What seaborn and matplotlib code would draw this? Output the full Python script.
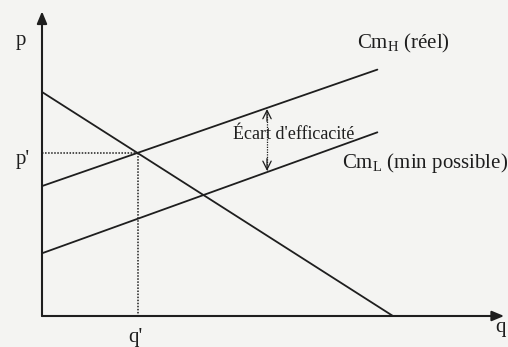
import matplotlib
matplotlib.use("Agg")
import matplotlib.pyplot as plt
import seaborn as sns
import pandas as pd

# Curve endpoints (quantity q, price p)
demand_q = [0.0, 9.0]
demand_p = [10.0, 0.0]
cmh_q = [0.0, 8.6]
cmh_p = [5.8, 11.0]
cml_q = [0.0, 8.6]
cml_p = [2.8, 8.2]

# Equilibrium with the real marginal cost
q_eq = 2.45
p_eq = 7.27

# Efficiency gap marker position
gap_q = 5.77
gap_top = 9.29
gap_bottom = 6.43

sns.set_theme(style="white")
plt.rcParams["font.family"] = ["Liberation Serif", "DejaVu Serif"]
plt.rcParams["mathtext.fontset"] = "custom"
plt.rcParams["mathtext.rm"] = "Liberation Serif"
plt.rcParams["mathtext.it"] = "Liberation Serif:italic"

bg = "#f4f4f2"
ink = "#1e1e1e"

fig = plt.figure(figsize=(5.08, 3.47), dpi=100, facecolor=bg)
ax = fig.add_axes([0, 0, 1, 1])
ax.set_facecolor(bg)
ax.set_xlim(-1.077, 11.95)
ax.set_ylim(-1.384, 14.107)
ax.axis("off")

lines = pd.concat([
    pd.DataFrame({"q": demand_q, "p": demand_p, "courbe": "D"}),
    pd.DataFrame({"q": cmh_q, "p": cmh_p, "courbe": "CmH"}),
    pd.DataFrame({"q": cml_q, "p": cml_p, "courbe": "CmL"}),
])
sns.lineplot(data=lines, x="q", y="p", units="courbe", estimator=None,
             color=ink, lw=1.3, ax=ax, sort=False)

# Axes with arrow heads
ax.annotate("", xy=(11.85, 0), xytext=(0, 0),
            arrowprops=dict(arrowstyle="-|>,head_length=0.6,head_width=0.25",
                            color=ink, lw=1.5, shrinkA=0, shrinkB=0))
ax.annotate("", xy=(0, 13.6), xytext=(0, 0),
            arrowprops=dict(arrowstyle="-|>,head_length=0.6,head_width=0.25",
                            color=ink, lw=1.5, shrinkA=0, shrinkB=0))

# Dotted guides to p' and q'
ax.plot([0, q_eq], [p_eq, p_eq], color=ink, lw=1.1, ls=(0, (1, 1)))
ax.plot([q_eq, q_eq], [p_eq, 0], color=ink, lw=1.1, ls=(0, (1, 1)))

# Efficiency gap double arrow
ax.plot([gap_q, gap_q], [gap_bottom + 0.1, gap_top - 0.1], color=ink,
        lw=0.9, ls=(0, (1, 1)))
for y0, y1 in [(gap_top - 0.6, gap_top - 0.05), (gap_bottom + 0.6, gap_bottom + 0.05)]:
    ax.annotate("", xy=(gap_q, y1), xytext=(gap_q, y0),
                arrowprops=dict(arrowstyle="->,head_length=0.5,head_width=0.25",
                                color=ink, lw=0.9, shrinkA=0, shrinkB=0))

fs = 15
ax.text(6.45, 8.1, "Écart d'efficacité", fontsize=13, color=ink,
        ha="center", va="center")
ax.text(-0.55, 12.3, "p", fontsize=fs, color=ink, ha="center", va="center")
ax.text(-0.5, 7.0, "p'", fontsize=fs, color=ink, ha="center", va="center")
ax.text(2.4, -0.95, "q'", fontsize=fs, color=ink, ha="center", va="center")
ax.text(11.75, -0.5, "q", fontsize=fs, color=ink, ha="center", va="center")
ax.text(9.26, 12.15, r"Cm$_{\mathrm{H}}$ (réel)", fontsize=fs, color=ink,
        ha="center", va="center")
ax.text(9.82, 6.85, r"Cm$_{\mathrm{L}}$ (min possible)", fontsize=fs, color=ink,
        ha="center", va="center")

fig.savefig("out.png", dpi=100, facecolor=bg)
